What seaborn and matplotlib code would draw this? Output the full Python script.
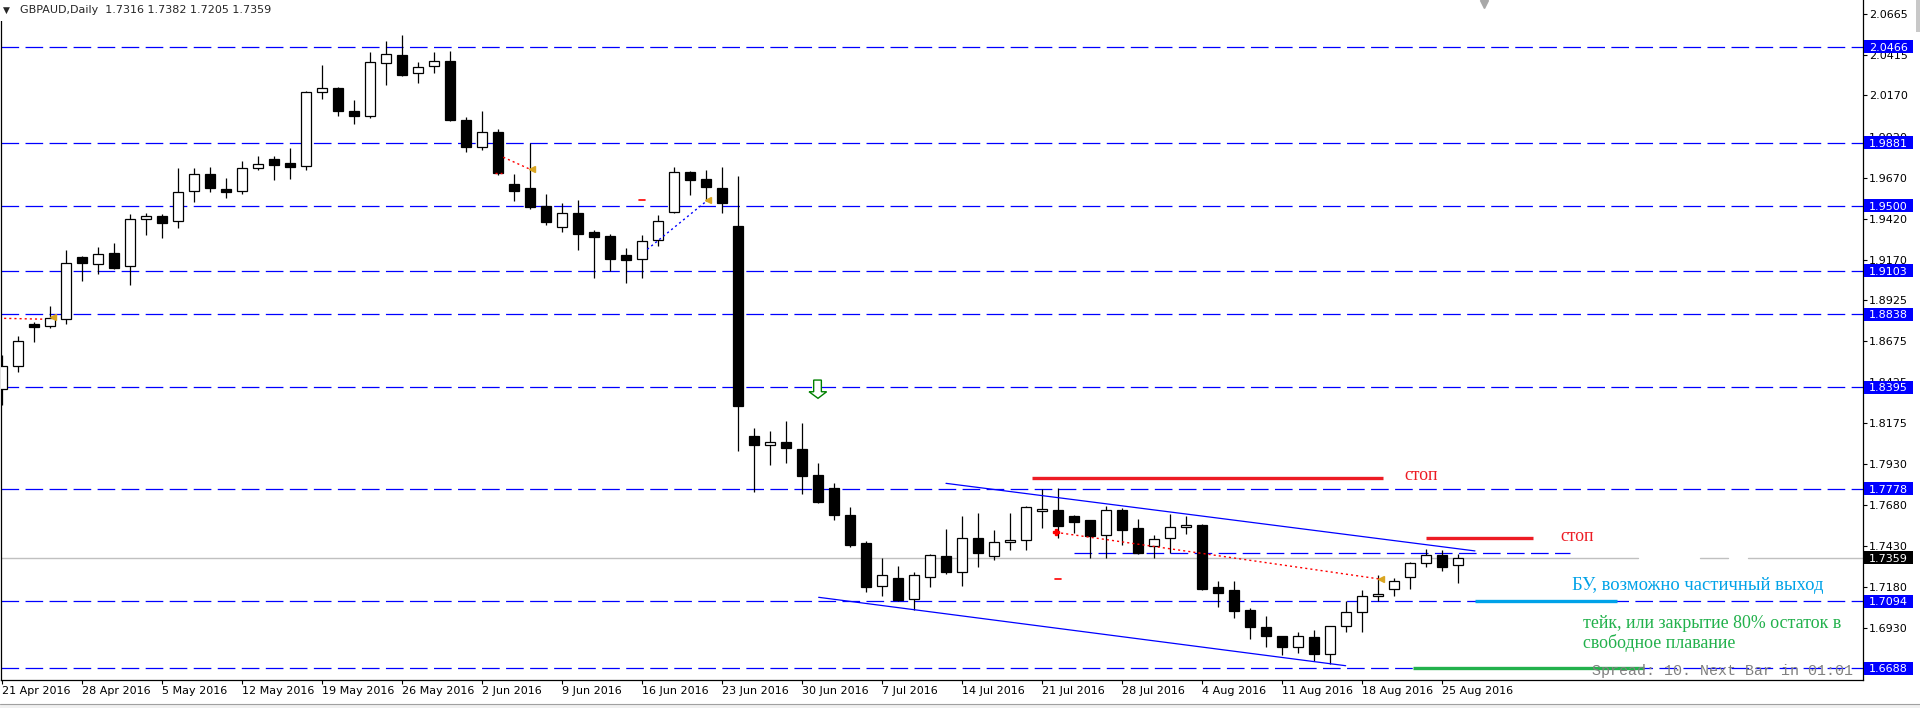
import matplotlib
matplotlib.use("Agg")
import matplotlib.pyplot as plt
import seaborn as sns
import pandas as pd
import numpy as np
from matplotlib.patches import Rectangle, Polygon
from matplotlib.transforms import blended_transform_factory

# ---------------- data ----------------
header = "GBPAUD,Daily  1.7316 1.7382 1.7205 1.7359"
dates = pd.bdate_range("2016-04-21", periods=92)

opens = [1.8385, 1.8525, 1.8780, 1.8766, 1.8809, 1.9186, 1.9143, 1.9210, 1.9131, 1.9417,
         1.9435, 1.9404, 1.9587, 1.9690, 1.9601, 1.9587, 1.9727, 1.9781, 1.9757, 1.9739,
         2.0189, 2.0213, 2.0075, 2.0043, 2.0365, 2.0416, 2.0304, 2.0347, 2.0379, 2.0020,
         1.9854, 1.9946, 1.9629, 1.9605, 1.9498, 1.9368, 1.9455, 1.9339, 1.9315, 1.9199,
         1.9173, 1.9289, 1.9459, 1.9702, 1.9660, 1.9605, 1.9374, 1.8097, 1.8042, 1.8061,
         1.8020, 1.7860, 1.7783, 1.7619, 1.7448, 1.7189, 1.7234, 1.7110, 1.7243, 1.7369,
         1.7274, 1.7477, 1.7367, 1.7453, 1.7465, 1.7641, 1.7647, 1.7611, 1.7586, 1.7495,
         1.7647, 1.7538, 1.7430, 1.7477, 1.7544, 1.7556, 1.7179, 1.7161, 1.7041, 1.6936,
         1.6881, 1.6818, 1.6875, 1.6775, 1.6945, 1.7027, 1.7124, 1.7167, 1.7240, 1.7325,
         1.7373, 1.7316]
highs = [1.8591, 1.8707, 1.8792, 1.8889, 1.9230, 1.9193, 1.9248, 1.9273, 1.9449, 1.9455,
         1.9449, 1.9729, 1.9729, 1.9735, 1.9668, 1.9771, 1.9802, 1.9802, 1.9850, 2.0197,
         2.0355, 2.0221, 2.0142, 2.0434, 2.0501, 2.0537, 2.0373, 2.0434, 2.0440, 2.0037,
         2.0075, 1.9966, 1.9692, 1.9882, 1.9570, 1.9516, 1.9534, 1.9352, 1.9327, 1.9242,
         1.9321, 1.9443, 1.9735, 1.9710, 1.9716, 1.9735, 1.9680, 1.8146, 1.8129, 1.8190,
         1.8178, 1.7935, 1.7813, 1.7667, 1.7459, 1.7357, 1.7308, 1.7272, 1.7381, 1.7533,
         1.7612, 1.7631, 1.7527, 1.7631, 1.7673, 1.7775, 1.7783, 1.7618, 1.7590, 1.7673,
         1.7663, 1.7592, 1.7495, 1.7625, 1.7611, 1.7562, 1.7217, 1.7215, 1.7051, 1.7003,
         1.6882, 1.6905, 1.6917, 1.6945, 1.7096, 1.7161, 1.7252, 1.7234, 1.7331, 1.7410,
         1.7404, 1.7382]
lows = [1.8287, 1.8488, 1.8672, 1.8757, 1.8782, 1.9043, 1.9086, 1.9116, 1.9017, 1.9323,
        1.9305, 1.9366, 1.9524, 1.9584, 1.9548, 1.9572, 1.9715, 1.9657, 1.9664, 1.9718,
        2.0150, 2.0047, 1.9998, 2.0033, 2.0235, 2.0290, 2.0247, 2.0308, 2.0016, 1.9828,
        1.9840, 1.9688, 1.9530, 1.9481, 1.9384, 1.9341, 1.9232, 1.9061, 1.9102, 1.9031,
        1.9061, 1.9256, 1.9453, 1.9566, 1.9530, 1.9457, 1.8010, 1.7760, 1.7924, 1.7937,
        1.7748, 1.7693, 1.7586, 1.7426, 1.7152, 1.7126, 1.7094, 1.7039, 1.7183, 1.7258,
        1.7189, 1.7304, 1.7347, 1.7408, 1.7408, 1.7541, 1.7480, 1.7511, 1.7359, 1.7359,
        1.7438, 1.7380, 1.7355, 1.7386, 1.7501, 1.7164, 1.7061, 1.6994, 1.6866, 1.6818,
        1.6769, 1.6781, 1.6729, 1.6711, 1.6909, 1.6909, 1.7094, 1.7128, 1.7170, 1.7300,
        1.7280, 1.7205]
closes = [1.8525, 1.8675, 1.8764, 1.8815, 1.9149, 1.9153, 1.9204, 1.9122, 1.9417, 1.9435,
          1.9396, 1.9581, 1.9690, 1.9609, 1.9584, 1.9727, 1.9751, 1.9749, 1.9736, 2.0189,
          2.0213, 2.0073, 2.0047, 2.0371, 2.0420, 2.0296, 2.0341, 2.0377, 2.0022, 1.9858,
          1.9946, 1.9700, 1.9591, 1.9493, 1.9402, 1.9453, 1.9329, 1.9311, 1.9177, 1.9171,
          1.9283, 1.9406, 1.9702, 1.9657, 1.9611, 1.9518, 1.8283, 1.8046, 1.8061, 1.8028,
          1.7857, 1.7699, 1.7620, 1.7438, 1.7183, 1.7252, 1.7102, 1.7252, 1.7373, 1.7274,
          1.7477, 1.7389, 1.7453, 1.7465, 1.7665, 1.7653, 1.7553, 1.7578, 1.7493, 1.7647,
          1.7529, 1.7386, 1.7474, 1.7544, 1.7556, 1.7170, 1.7146, 1.7037, 1.6939, 1.6885,
          1.6818, 1.6881, 1.6775, 1.6945, 1.7027, 1.7124, 1.7136, 1.7215, 1.7325, 1.7373,
          1.7304, 1.7359]

xtick_labels = ["21 Apr 2016", "28 Apr 2016", "5 May 2016", "12 May 2016", "19 May 2016",
                "26 May 2016", "2 Jun 2016", "9 Jun 2016", "16 Jun 2016", "23 Jun 2016",
                "30 Jun 2016", "7 Jul 2016", "14 Jul 2016", "21 Jul 2016", "28 Jul 2016",
                "4 Aug 2016", "11 Aug 2016", "18 Aug 2016", "25 Aug 2016"]
ytick_values = [2.0665, 2.0415, 2.0170, 1.9920, 1.9670, 1.9420, 1.9170, 1.8925, 1.8675,
                1.8425, 1.8175, 1.7930, 1.7680, 1.7430, 1.7180, 1.6930]
levels = [2.0466, 1.9881, 1.9500, 1.9103, 1.8838, 1.8395, 1.7778, 1.7094, 1.6688]
bid = 1.7359

# trend channel (bar index, price)
upper_x = [59.0, 92.06]
upper_y = [1.7811, 1.7400]
lower_x = [51.04, 83.98]
lower_y = [1.7118, 1.6702]
short_level = 1.7386
short_level_x = [67.0, 98.0]

stop1_x, stop1_y = [64.4, 86.3], 1.7842
stop2_x, stop2_y = [89.0, 95.7], 1.7477
be_x, be_y = [92.05, 100.94], 1.7094
take_x, take_y = [88.2, 102.6], 1.6688

# ---------------- figure ----------------
sns.set_style("white")
plt.rcParams["font.family"] = ["DejaVu Sans"]
plt.rcParams["lines.scale_dashes"] = False

W, H = 1920, 708
fig = plt.figure(figsize=(W / 100, H / 100), dpi=100)
fig.patch.set_facecolor("white")
ax = fig.add_axes([1 / W, 28 / H, 1862 / W, 680 / H])
ax.set_facecolor("white")

y_top, y_bot = 2.07501, 1.661514
ax.set_ylim(y_bot, y_top)
ax.set_xlim(-0.0625, 116.3125)

df = pd.DataFrame({"date": dates, "open": opens, "high": highs, "low": lows, "close": closes})
df["i"] = np.arange(len(df))
up = df["close"] >= df["open"]

# horizontal levels
for lv in levels:
    ax.axhline(lv, color="#0000FF", lw=0.9, dashes=(12.7, 4.6), zorder=1)
ax.plot(short_level_x, [short_level] * 2, color="#0000FF", lw=0.9, dashes=(12.7, 4.6), zorder=1)

# bid line (with small gaps as in the reference)
for seg in [(-1, 102.25), (106.1, 107.9), (109.1, 117)]:
    ax.plot(seg, [bid, bid], color="#C0C0C0", lw=1.0, zorder=1)

# candles
ax.vlines(df["i"], df["low"], df["high"], color="black", lw=0.9, zorder=3)
body_bottom = np.minimum(df["open"], df["close"])
body_h = np.maximum((df["close"] - df["open"]).abs(), 0.0004)
ax.bar(df["i"], body_h, bottom=body_bottom, width=0.62,
       color=np.where(up, "white", "black"), edgecolor="black", linewidth=0.9, zorder=4)

# channel lines
sns.lineplot(x=upper_x, y=upper_y, ax=ax, color="#0000FF", lw=0.9, zorder=5)
sns.lineplot(x=lower_x, y=lower_y, ax=ax, color="#0000FF", lw=0.9, zorder=5)

# trade history dotted lines / markers
dot = (1.5, 2.2)
ax.plot([-0.2, 2.69], [1.8815, 1.8809], color="#FF0000", lw=1.0, dashes=dot, zorder=5)
ax.plot([3.17], [1.8823], marker="<", color="#DAA520", ms=4, zorder=6)
ax.plot([31.33, 33.0], [1.9794, 1.9721], color="#FF0000", lw=1.0, dashes=dot, zorder=5)
ax.plot([30.84, 31.24], [1.9696, 1.9696], color="#FF0000", lw=1.0, dashes=dot, zorder=5)
ax.plot([33.14], [1.9721], marker="<", color="#DAA520", ms=4, zorder=6)
ax.plot([39.8, 40.2], [1.9532, 1.9532], color="#FF0000", lw=1.2, zorder=5)
ax.plot([40.33, 44.04], [1.9234, 1.9528], color="#0000FF", lw=1.0, dashes=dot, zorder=5)
ax.plot([44.14], [1.9532], marker="<", color="#DAA520", ms=4, zorder=6)
ax.plot([65.875, 86.125], [1.7513, 1.7229], color="#FF0000", lw=1.0, dashes=dot, zorder=5)
ax.plot([65.875], [1.7513], marker="P", color="#FF0000", ms=5, zorder=6)
ax.plot([86.2], [1.7229], marker="<", color="#DAA520", ms=4, zorder=6)
ax.plot([65.8, 66.2], [1.7227, 1.7227], color="#FF0000", lw=1.2, zorder=5)

# green down arrow
arrow_x = [50.73, 51.21, 51.21, 51.54, 51.0, 50.44, 50.73]
arrow_y = [1.8439, 1.8439, 1.8368, 1.8368, 1.8328, 1.8368, 1.8368]
ax.add_patch(Polygon(list(zip(arrow_x, arrow_y)), closed=True, facecolor="white",
                     edgecolor="#008000", lw=1.0, zorder=6))

# top shift marker
ax.plot([92.6], [2.0728], marker="v", color="#A8A8A8", ms=6, zorder=6, clip_on=False)

# manual trade annotations
ax.plot(stop1_x, [stop1_y] * 2, color="#ED1C24", lw=2.4, solid_capstyle="butt", zorder=7)
ax.plot(stop2_x, [stop2_y] * 2, color="#ED1C24", lw=2.4, solid_capstyle="butt", zorder=7)
ax.plot(be_x, [be_y] * 2, color="#00A2E8", lw=2.4, solid_capstyle="butt", zorder=7)
ax.plot(take_x, [take_y] * 2, color="#22B14C", lw=2.4, solid_capstyle="butt", zorder=7)


def fx(px):
    return px / W


def fy(py):
    return 1 - py / H


serif = ["Liberation Serif", "DejaVu Serif"]
fig.text(fx(1404), fy(476), "стоп", color="#ED1C24", fontsize=12.8, family=serif, va="center", ha="left")
fig.text(fx(1560), fy(536.7), "стоп", color="#ED1C24", fontsize=12.8, family=serif, va="center", ha="left")
fig.text(fx(1572), fy(590), "БУ, возможно частичный выход", color="#00A2E8", fontsize=13.4,
         family=serif, va="baseline", ha="left")
fig.text(fx(1583), fy(628.5), "тейк, или закрытие 80% остаток в", color="#22B14C", fontsize=12.9,
         family=serif, va="baseline", ha="left")
fig.text(fx(1583), fy(647.5), "свободное плавание", color="#22B14C", fontsize=12.9,
         family=serif, va="baseline", ha="left")
fig.text(fx(1592), fy(670.5), "Spread: 10. Next Bar in 01:01", color="#808080", fontsize=10.8,
         family=["Liberation Mono", "DejaVu Sans Mono"], va="center", ha="left", zorder=8)

# axes styling
for s in ["left", "right", "bottom"]:
    ax.spines[s].set_color("black")
    ax.spines[s].set_linewidth(0.9)
ax.spines["top"].set_visible(False)

ax.yaxis.tick_right()
ax.set_yticks(ytick_values)
ax.set_yticklabels([f"{v:.4f}" for v in ytick_values])
ax.set_xticks(list(range(0, 91, 5)))
ax.set_xticklabels(xtick_labels)
for lab in ax.get_xticklabels():
    lab.set_ha("left")
ax.tick_params(axis="y", right=True, left=False, direction="out", length=3, width=0.8,
               pad=1.5, labelsize=8, colors="black")
ax.tick_params(axis="x", bottom=True, direction="out", length=3, width=0.8, pad=1.5,
               labelsize=8, colors="black")
ax.set_xlabel("")
ax.set_ylabel("")

# highlighted price labels
trans = blended_transform_factory(ax.transAxes, ax.transData)
box_w = 49 / 1862
box_h = 13 / 1644.5
for lv in levels:
    ax.add_patch(Rectangle((1 + 1 / 1862, lv - box_h / 2), box_w, box_h, transform=trans,
                           facecolor="#0000FF", edgecolor="none", clip_on=False, zorder=10))
    ax.text(1 + 6 / 1862, lv, f"{lv:.4f}", transform=trans, color="white", fontsize=8,
            va="center_baseline", ha="left", clip_on=False, zorder=11)
ax.add_patch(Rectangle((1 + 1 / 1862, bid - box_h / 2), box_w, box_h, transform=trans,
                       facecolor="black", edgecolor="none", clip_on=False, zorder=10))
ax.text(1 + 6 / 1862, bid, f"{bid:.4f}", transform=trans, color="white", fontsize=8,
        va="center_baseline", ha="left", clip_on=False, zorder=11)

# header
fig.patches.append(Rectangle((0, fy(21)), fx(275), 21 / H, transform=fig.transFigure,
                             facecolor="white", edgecolor="none", zorder=2))
fig.text(fx(3), fy(10), "▼", fontsize=6.5, va="center", ha="left", zorder=3)
fig.text(fx(20), fy(10), header, fontsize=8, va="center", ha="left", zorder=3)

# window chrome at bottom / right
fig.patches.append(Rectangle((0, 0), 1, 4 / H, transform=fig.transFigure,
                             facecolor="#F0F0F0", edgecolor="none", zorder=0))
fig.add_artist(plt.Line2D([0, 1], [fy(704), fy(704)], color="#A0A0A0", lw=0.8))
fig.patches.append(Rectangle((fx(1916), fy(32)), fx(4), 32 / H, transform=fig.transFigure,
                             facecolor="#C8C8C8", edgecolor="none", zorder=2))

fig.savefig("out.png", dpi=100, facecolor="white")
